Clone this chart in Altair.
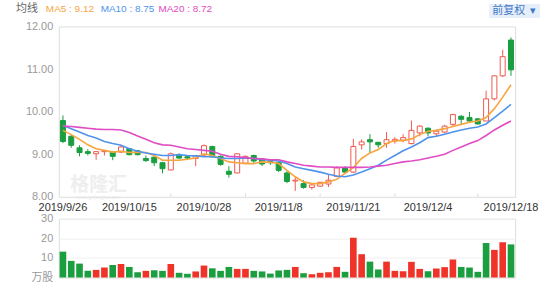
import altair as alt
import pandas as pd

dates = [
    "2019/9/26", "2019/9/27", "2019/9/30", "2019/10/8", "2019/10/9", "2019/10/10", "2019/10/11",
    "2019/10/14", "2019/10/15", "2019/10/16", "2019/10/17", "2019/10/18", "2019/10/21", "2019/10/22",
    "2019/10/23", "2019/10/24", "2019/10/25", "2019/10/28", "2019/10/29", "2019/10/30", "2019/10/31",
    "2019/11/1", "2019/11/4", "2019/11/5", "2019/11/6", "2019/11/7", "2019/11/8", "2019/11/11",
    "2019/11/12", "2019/11/13", "2019/11/14", "2019/11/15", "2019/11/18", "2019/11/19", "2019/11/20",
    "2019/11/21", "2019/11/22", "2019/11/25", "2019/11/26", "2019/11/27", "2019/11/28", "2019/11/29",
    "2019/12/2", "2019/12/3", "2019/12/4", "2019/12/5", "2019/12/6", "2019/12/9", "2019/12/10",
    "2019/12/11", "2019/12/12", "2019/12/13", "2019/12/16", "2019/12/17", "2019/12/18",
]
opens = [9.79, 9.42, 9.15, 9.06, 9.01, 9.06, 9.05, 9.05, 9.13, 9.08,
         8.90, 8.93, 8.80, 8.63, 8.99, 8.94, 8.90, 8.98, 9.18, 8.95,
         8.60, 8.56, 8.79, 8.97, 8.89, 8.83, 8.80, 8.56, 8.37, 8.31,
         8.22, 8.25, 8.30, 8.48, 8.68, 8.58, 9.22, 9.34, 9.28, 9.25,
         9.31, 9.33, 9.25, 9.50, 9.61, 9.48, 9.52, 9.70, 9.89, 9.86,
         9.83, 9.78, 10.30, 10.84, 11.68]
highs = [9.91, 9.46, 9.21, 9.12, 9.07, 9.09, 9.07, 9.22, 9.15, 9.10,
         8.97, 8.95, 8.82, 9.04, 9.02, 8.98, 8.98, 9.23, 9.20, 8.97,
         8.72, 9.02, 8.97, 8.99, 8.91, 8.87, 8.83, 8.60, 8.47, 8.39,
         8.31, 8.35, 8.53, 8.72, 8.72, 9.36, 9.35, 9.47, 9.29, 9.52,
         9.40, 9.47, 9.79, 9.68, 9.63, 9.58, 9.69, 9.95, 9.92, 9.99,
         9.85, 10.49, 10.84, 11.45, 11.74]
lows = [9.26, 9.15, 8.95, 8.97, 8.87, 8.97, 8.86, 9.03, 8.97, 8.97,
        8.82, 8.72, 8.55, 8.62, 8.88, 8.87, 8.72, 8.96, 8.92, 8.73,
        8.45, 8.55, 8.77, 8.80, 8.72, 8.75, 8.58, 8.32, 8.14, 8.19,
        8.17, 8.23, 8.23, 8.46, 8.56, 8.56, 9.11, 9.03, 9.15, 9.15,
        9.25, 9.28, 9.23, 9.42, 9.42, 9.42, 9.50, 9.64, 9.70, 9.74,
        9.70, 9.78, 10.26, 10.81, 10.84]
closes = [9.30, 9.21, 9.04, 9.02, 9.06, 9.08, 8.95, 9.17, 8.99, 8.99,
          8.85, 8.80, 8.66, 9.01, 8.91, 8.91, 8.96, 9.20, 8.94, 8.76,
          8.53, 9.01, 8.95, 8.84, 8.77, 8.80, 8.62, 8.36, 8.39, 8.22,
          8.28, 8.34, 8.39, 8.68, 8.58, 9.18, 9.29, 9.29, 9.22, 9.34,
          9.35, 9.39, 9.56, 9.66, 9.50, 9.54, 9.66, 9.93, 9.82, 9.78,
          9.71, 10.30, 10.84, 11.29, 10.98]
ma5 = [9.56, 9.46, 9.35, 9.22, 9.13, 9.09, 9.05, 9.07, 9.04, 9.05,
       9.04, 8.97, 8.86, 8.86, 8.86, 8.88, 8.91, 9.01, 8.97, 8.90,
       8.82, 8.80, 8.78, 8.78, 8.82, 8.81, 8.78, 8.62, 8.47, 8.35,
       8.31, 8.31, 8.35, 8.41, 8.55, 8.69, 8.90, 9.03, 9.11, 9.25,
       9.32, 9.32, 9.36, 9.46, 9.54, 9.56, 9.60, 9.65, 9.70, 9.75,
       9.78, 9.86, 10.07, 10.34, 10.63]
ma10 = [9.68, 9.60, 9.52, 9.44, 9.38, 9.30, 9.25, 9.21, 9.13, 9.07,
        9.03, 9.00, 8.97, 8.97, 8.99, 8.97, 8.96, 8.94, 8.94, 8.91,
        8.90, 8.90, 8.91, 8.90, 8.87, 8.86, 8.84, 8.78, 8.70, 8.66,
        8.62, 8.58, 8.53, 8.49, 8.47, 8.51, 8.58, 8.66, 8.74, 8.86,
        8.97, 9.08, 9.17, 9.27, 9.39, 9.42, 9.47, 9.52, 9.57, 9.61,
        9.64, 9.71, 9.86, 10.01, 10.17]
ma20 = [9.66, 9.65, 9.63, 9.61, 9.59, 9.58, 9.58, 9.57, 9.51, 9.43,
        9.35, 9.27, 9.22, 9.21, 9.17, 9.13, 9.11, 9.09, 9.07, 9.00,
        8.95, 8.94, 8.92, 8.90, 8.89, 8.87, 8.87, 8.82, 8.78, 8.74,
        8.72, 8.70, 8.70, 8.69, 8.69, 8.69, 8.69, 8.70, 8.72, 8.74,
        8.78, 8.82, 8.84, 8.87, 8.91, 8.95, 9.00, 9.09, 9.17, 9.25,
        9.32, 9.44, 9.57, 9.68, 9.78]
volumes = [13.2, 8.5, 7.1, 3.4, 3.9, 5.1, 6.4, 6.9, 5.4, 2.7,
           3.4, 3.7, 3.4, 6.9, 2.4, 1.9, 3.1, 6.1, 4.7, 3.4,
           5.4, 4.4, 4.4, 3.4, 3.1, 2.0, 3.6, 3.9, 5.4, 2.2,
           1.7, 2.4, 2.7, 5.4, 2.9, 20.3, 11.9, 8.1, 4.1, 8.1,
           3.4, 3.2, 8.0, 4.4, 3.2, 4.6, 5.3, 9.2, 5.4, 5.1,
           2.9, 17.6, 14.1, 18.0, 16.9]
vol_dir = ["down", "down", "down", "down", "up", "up", "down", "up", "down", "down",
           "up", "down", "down", "up", "down", "down", "up", "up", "down", "down",
           "down", "up", "up", "down", "down", "down", "down", "down", "up", "down",
           "up", "up", "up", "up", "down", "up", "up", "down", "down", "up",
           "up", "up", "up", "up", "down", "up", "up", "up", "down", "down",
           "down", "down", "up", "up", "down"]
price_ticks = [8, 9, 10, 11, 12]
vol_ticks = [0, 10, 20, 30]
label_dates = ["2019/9/26", "2019/10/15", "2019/10/28", "2019/11/8", "2019/11/21", "2019/12/4", "2019/12/18"]
tick_dates = ["2019/10/22", "2019/11/4", "2019/11/15", "2019/11/28", "2019/12/12"]
legend_texts = ["均线", "MA5 : 9.12", "MA10 : 8.75", "MA20 : 8.72"]

RED = "#ef3328"
RED_LINE = "#f0584e"
GREEN = "#1a9e3f"
ORANGE = "#f8a53f"
BLUE = "#4f93ec"
PINK = "#e04cc4"
FONT = "Liberation Sans, Noto Sans CJK SC"

df = pd.DataFrame({
    "date": dates, "open": opens, "high": highs, "low": lows, "close": closes,
    "ma5": ma5, "ma10": ma10, "ma20": ma20, "vol": volumes, "vdir": vol_dir,
})
df["dir"] = ["up" if c >= o else "down" for o, c in zip(opens, closes)]
ticks_df = pd.DataFrame({"date": tick_dates})
labels_df = pd.DataFrame({"date": label_dates})

xscale = alt.Scale(domain=dates, paddingInner=0, paddingOuter=0)
x_top = alt.X("date:O", sort=dates, scale=xscale, title=None, axis=None)
yscale = alt.Scale(domain=[8, 12], zero=False, nice=False)
y_axis = alt.Axis(values=price_ticks, format=".2f", domain=False, ticks=False, gridColor="#efefef",
                  labelColor="#999999", labelFontSize=11, labelPadding=6, labelFont=FONT)

dir_stroke = alt.Scale(domain=["up", "down"], range=[RED_LINE, GREEN])
dir_fill = alt.Scale(domain=["up", "down"], range=["#ffffff", GREEN])

base = alt.Chart(df).encode(x=x_top)

wick = base.mark_rule(strokeWidth=1).encode(
    y=alt.Y("low:Q", scale=yscale, axis=y_axis, title=None),
    y2="high:Q",
    stroke=alt.Stroke("dir:N", scale=dir_stroke, legend=None),
)
body = base.mark_bar(width=alt.RelativeBandSize(0.6), strokeWidth=1).encode(
    y=alt.Y("open:Q", scale=yscale, axis=y_axis, title=None),
    y2="close:Q",
    fill=alt.Fill("dir:N", scale=dir_fill, legend=None),
    stroke=alt.Stroke("dir:N", scale=dir_stroke, legend=None),
)
line5 = base.mark_line(color=ORANGE, strokeWidth=1.6).encode(
    y=alt.Y("ma5:Q", scale=yscale, axis=y_axis, title=None))
line10 = base.mark_line(color=BLUE, strokeWidth=1.6).encode(
    y=alt.Y("ma10:Q", scale=yscale, axis=y_axis, title=None))
line20 = base.mark_line(color=PINK, strokeWidth=1.6).encode(
    y=alt.Y("ma20:Q", scale=yscale, axis=y_axis, title=None))

xticks = alt.Chart(ticks_df).mark_rule(color="#dddddd", strokeWidth=1).encode(
    x=x_top,
    y=alt.datum(8.0), y2=alt.datum(8.08),
)

xlabels = alt.Chart(labels_df).mark_text(
    align="center", baseline="top", color="#333333", fontSize=11, font=FONT
).encode(x=x_top, y=alt.value(176), text="date:N")


def txt(s, x, y, color, size, align="left", weight="normal"):
    return alt.Chart(pd.DataFrame({"t": [s]})).mark_text(
        align=align, baseline="middle", color=color, fontSize=size, font=FONT, fontWeight=weight
    ).encode(text="t:N", x=alt.value(x), y=alt.value(y))


watermark = txt("格隆汇", 40, 159, "#eeeeee", 19, align="center", weight="bold")
watermark2 = txt("www.gelonghui.com", 40, 171, "#e8e8e8", 5, align="center")

button = alt.Chart(pd.DataFrame({"t": [0]})).mark_rect(color="#e6eefa").encode(
    x=alt.value(432), x2=alt.value(483), y=alt.value(-22.5), y2=alt.value(-8.5)
)
btn_text = txt("前复权", 435, -15.5, "#3f78c8", 11)
btn_arrow = txt("▾", 476, -15.5, "#3f78c8", 11, align="center")

t0 = txt(legend_texts[0], -43, -17.2, "#666666", 11)
t1 = txt(legend_texts[1], -13, -17.2, ORANGE, 10)
t2 = txt(legend_texts[2], 42, -17.2, BLUE, 10)
t3 = txt(legend_texts[3], 100, -17.2, PINK, 10)

top = alt.layer(
    watermark, watermark2, xticks, wick, body, line5, line10, line20, xlabels,
    button, btn_text, btn_arrow, t0, t1, t2, t3
).properties(width=458, height=171)

vol = alt.Chart(df).mark_bar(width=alt.RelativeBandSize(0.8)).encode(
    x=alt.X("date:O", sort=dates, scale=xscale, axis=None),
    y=alt.Y("vol:Q", scale=alt.Scale(domain=[0, 30], nice=False), title=None,
            axis=alt.Axis(values=vol_ticks, domain=False, ticks=False, gridColor="#efefef",
                          labelColor="#999999", labelFontSize=11, labelPadding=6, labelFont=FONT,
                          labelExpr="datum.value == 0 ? '万股' : datum.label")),
    color=alt.Color("vdir:N", scale=alt.Scale(domain=["up", "down"], range=[RED, GREEN]), legend=None),
).properties(width=458, height=59)

chart = alt.vconcat(top, vol, spacing=22, bounds="flush").resolve_scale(
    fill="independent", stroke="independent", color="independent"
).configure_view(stroke=None).configure(font=FONT).properties(
    padding={"left": 15, "top": 2, "right": 13, "bottom": 4}, background="#ffffff"
)

chart.save("out.html", embed_options={"renderer": "svg", "actions": False})
